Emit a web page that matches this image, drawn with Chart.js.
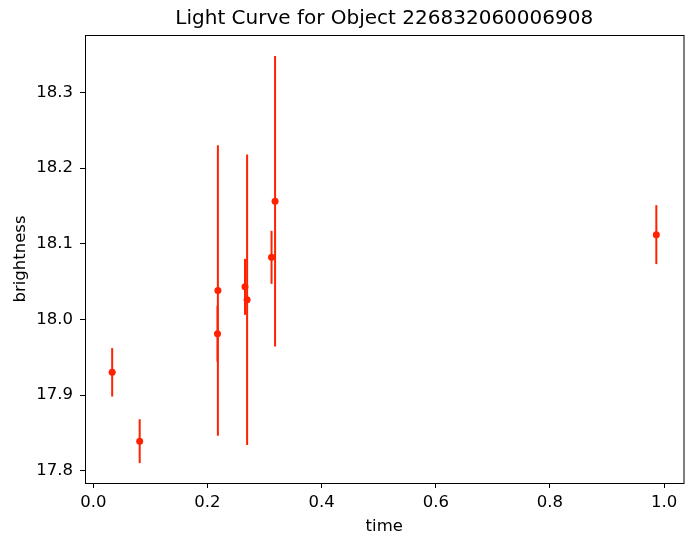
<!DOCTYPE html>
<html>
<head>
<meta charset="utf-8">
<script src="https://cdn.jsdelivr.net/npm/chart.js@4/dist/chart.umd.min.js"></script>
<style>
  html, body { margin: 0; padding: 0; background: #fff; }
  #wrap { width: 687px; height: 537px; }
</style>
</head>
<body>
<div id="wrap"><canvas id="lc" width="687" height="537"></canvas></div>
<script>
// light curve values
const times = [0.0331, 0.0813, 0.2183, 0.2176, 0.2658, 0.2695, 0.3123, 0.3185, 0.9864];
const brightness = [17.930, 17.839, 18.038, 17.981, 18.043, 18.026, 18.082, 18.156, 18.112];
const errors = [0.032, 0.029, 0.192, 0.037, 0.037, 0.192, 0.035, 0.192, 0.039];

const xTicks = [0.0, 0.2, 0.4, 0.6, 0.8, 1.0];
const yTicks = [17.8, 17.9, 18.0, 18.1, 18.2, 18.3];

const RED = '#ff2200';
const FONT = "'DejaVu Sans', sans-serif";

// error bars, drawn under the markers
const errorBars = {
  id: 'errorBars',
  beforeDatasetsDraw(chart) {
    const { ctx, scales: { x, y } } = chart;
    ctx.save();
    ctx.strokeStyle = RED;
    ctx.lineWidth = 2;
    times.forEach((t, i) => {
      const px = x.getPixelForValue(t);
      ctx.beginPath();
      ctx.moveTo(px, y.getPixelForValue(brightness[i] - errors[i]));
      ctx.lineTo(px, y.getPixelForValue(brightness[i] + errors[i]));
      ctx.stroke();
    });
    ctx.restore();
  }
};

// box round the axes + title centred over the axes
const frame = {
  id: 'frame',
  afterDraw(chart) {
    const { ctx, chartArea: a } = chart;
    ctx.save();
    ctx.strokeStyle = '#000';
    ctx.lineWidth = 1;
    ctx.strokeRect(a.left + 0.5, a.top + 0.5, a.right - a.left, a.bottom - a.top);
    ctx.fillStyle = '#000';
    ctx.font = '20px ' + FONT;
    ctx.textAlign = 'center';
    ctx.textBaseline = 'middle';
    ctx.fillText('Light Curve for Object 226832060006908', (a.left + a.right) / 2, 19);
    ctx.restore();
  }
};

new Chart(document.getElementById('lc'), {
  type: 'scatter',
  data: {
    datasets: [{
      data: times.map((t, i) => ({ x: t, y: brightness[i] })),
      backgroundColor: RED,
      borderColor: RED,
      pointRadius: 3.5,
      pointHoverRadius: 3.5,
      borderWidth: 0
    }]
  },
  options: {
    responsive: false,
    animation: false,
    events: [],
    layout: { padding: { top: 35, right: 2, left: 0, bottom: 0 } },
    plugins: { legend: { display: false }, tooltip: { enabled: false }, title: { display: false } },
    scales: {
      x: {
        type: 'linear',
        min: -0.0145,
        max: 1.034,
        afterBuildTicks: (s) => { s.ticks = xTicks.map(v => ({ value: v })); },
        afterFit: (s) => { s.height = 54; },
        grid: { drawOnChartArea: false, drawTicks: true, tickLength: 5, color: '#000', tickWidth: 1 },
        border: { display: true, color: '#000', width: 1 },
        ticks: { color: '#000', font: { family: FONT, size: 16.5 }, padding: 5, maxRotation: 0,
          callback: (v) => Number(v).toFixed(1) },
        title: { display: true, text: 'time', color: '#000', font: { family: FONT, size: 16.5 },
          padding: { top: 0, bottom: 0 } }
      },
      y: {
        type: 'linear',
        min: 17.7837,
        max: 18.3759,
        afterBuildTicks: (s) => { s.ticks = yTicks.map(v => ({ value: v })); },
        afterFit: (s) => { s.width = 85; },
        grid: { drawOnChartArea: false, drawTicks: true, tickLength: 5, color: '#000', tickWidth: 1 },
        border: { display: true, color: '#000', width: 1 },
        ticks: { color: '#000', font: { family: FONT, size: 16.5 }, padding: 7,
          callback: (v) => Number(v).toFixed(1) },
        title: { display: true, text: 'brightness', color: '#000', font: { family: FONT, size: 16.5 },
          padding: { top: 11, bottom: 0 } }
      }
    }
  },
  plugins: [errorBars, frame]
});
</script>
</body>
</html>
